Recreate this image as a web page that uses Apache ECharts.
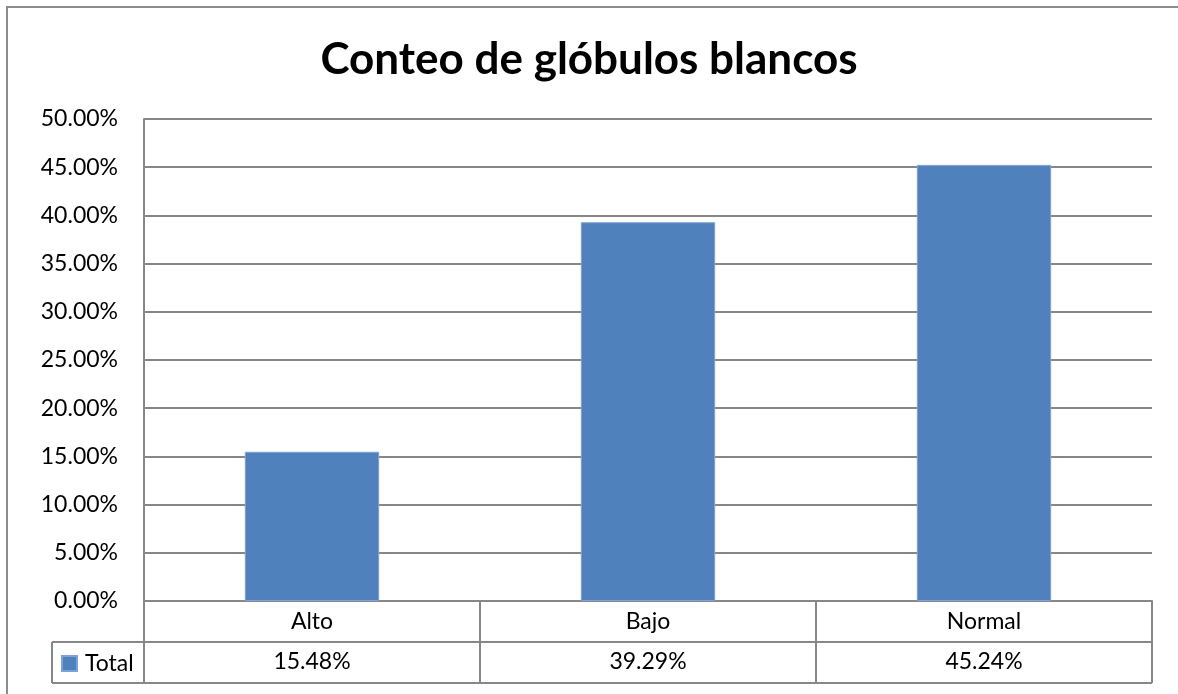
<!DOCTYPE html>
<html>
<head>
<meta charset="utf-8">
<script src="https://cdn.jsdelivr.net/npm/echarts@6/dist/echarts.min.js"></script>
<style>
html,body{margin:0;padding:0;background:#fff;}
#chart{width:1178px;height:694px;}
</style>
</head>
<body>
<div id="chart"></div>
<script>
// Conteo de glóbulos blancos — share of each result class
var categories = ['Alto', 'Bajo', 'Normal'];
var totals = [0.1548, 0.3929, 0.4524];
var seriesName = 'Total';
var yTicks = { min: 0, max: 0.5, interval: 0.05 };

var FONT = 'Lato, "Open Sans", sans-serif';
var FS = 23;
var GRID = { left: 144, right: 26, top: 119, bottom: 93 };
var W = 1178, H = 694;
var ROW = 41;
var LEGEND_LEFT = 52;
var LINE = '#878787';

function pct(v) { return (v * 100).toFixed(2) + '%'; }

var chart = echarts.init(document.getElementById('chart'), null, { renderer: 'canvas' });

var plotRight = W - GRID.right;
var axisY = H - GRID.bottom;
var colW = (plotRight - GRID.left) / categories.length;

// data table grid lines below the plot
var tableLines = [];
function hline(x1, x2, y) { tableLines.push({ type: 'line', shape: { x1: x1, y1: y, x2: x2, y2: y }, style: { stroke: LINE, lineWidth: 2 } }); }
function vline(x, y1, y2) { tableLines.push({ type: 'line', shape: { x1: x, y1: y1, x2: x, y2: y2 }, style: { stroke: LINE, lineWidth: 2 } }); }
hline(LEGEND_LEFT, plotRight, axisY + ROW);
hline(LEGEND_LEFT, plotRight, axisY + 2 * ROW);
vline(LEGEND_LEFT, axisY + ROW, axisY + 2 * ROW);
vline(GRID.left, axisY, axisY + 2 * ROW);
for (var i = 1; i <= categories.length; i++) {
  vline(GRID.left + colW * i, axisY, axisY + 2 * ROW);
}

chart.setOption({
  animation: false,
  backgroundColor: '#fff',
  title: {
    text: 'Conteo de glóbulos blancos',
    left: 'center',
    top: 33,
    textStyle: { fontFamily: FONT, fontWeight: 'bold', fontSize: 44, color: '#000' }
  },
  legend: {
    left: LEGEND_LEFT + 4,
    top: axisY + ROW + 5,
    itemWidth: 15,
    itemHeight: 15,
    itemGap: 0,
    icon: 'rect',
    textStyle: { fontFamily: FONT, fontSize: FS, color: '#000', padding: [0, 0, 0, 3] },
    data: [seriesName]
  },
  grid: { left: GRID.left, right: GRID.right, top: GRID.top, bottom: GRID.bottom },
  xAxis: [{
    type: 'category',
    data: categories,
    axisLine: { show: true, lineStyle: { color: LINE, width: 2 } },
    axisTick: { show: false },
    axisLabel: { fontFamily: FONT, fontSize: FS, color: '#000', margin: 9 }
  }, {
    type: 'category',
    data: totals.map(pct),
    position: 'bottom',
    offset: ROW,
    axisLine: { show: false },
    axisTick: { show: false },
    axisLabel: { fontFamily: FONT, fontSize: FS, color: '#000', margin: 8 }
  }],
  yAxis: {
    type: 'value',
    min: yTicks.min,
    max: yTicks.max,
    interval: yTicks.interval,
    axisLine: { show: true, lineStyle: { color: LINE, width: 2 } },
    axisTick: { show: false },
    splitLine: { lineStyle: { color: LINE, width: 2 } },
    axisLabel: { fontFamily: FONT, fontSize: FS, color: '#000', margin: 26, formatter: pct }
  },
  series: [{
    name: seriesName,
    type: 'bar',
    data: totals,
    barWidth: '40%',
    itemStyle: { color: '#4F81BD', borderColor: '#7DA3D6', borderWidth: 1 }
  }],
  graphic: [{
    type: 'rect',
    shape: { x: 7, y: 7, width: W + 10, height: H + 10 },
    style: { fill: 'none', stroke: '#8c8c8c', lineWidth: 2 },
    silent: true
  }].concat(tableLines)
});
</script>
</body>
</html>
